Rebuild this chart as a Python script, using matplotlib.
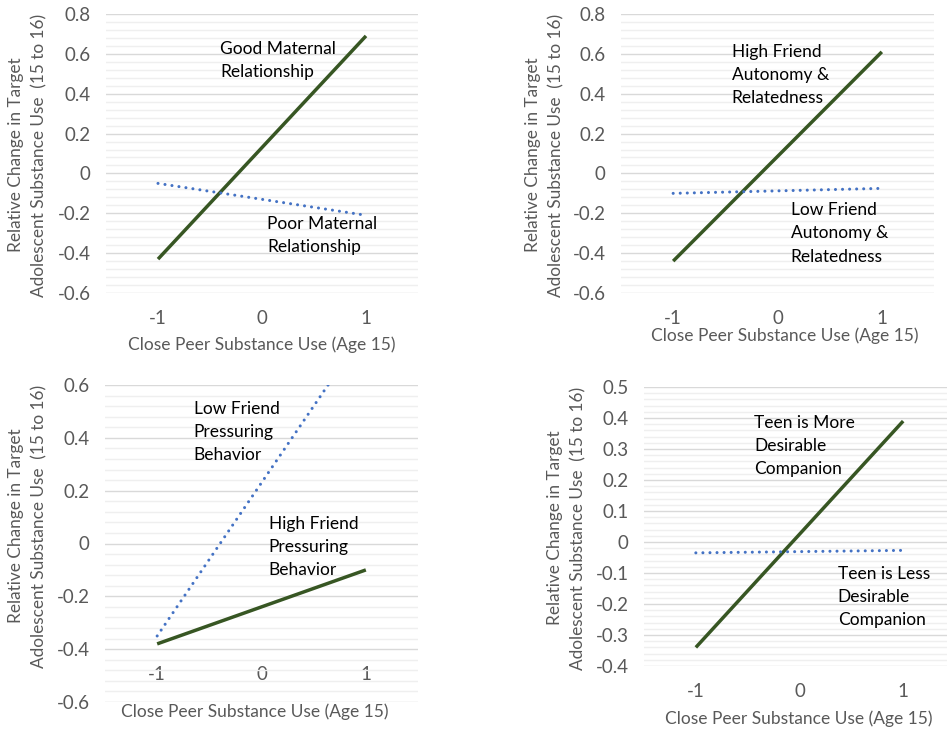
import matplotlib
matplotlib.use("Agg")
import matplotlib.pyplot as plt
import numpy as np
from matplotlib.ticker import MultipleLocator, FuncFormatter

plt.rcParams['font.family'] = ['Lato', 'DejaVu Sans']

W, H = 947, 735

# Datos (valores en x = -1 y x = 1)
x_vals = [-1, 1]
x_ticks = [-1, 0, 1]
x_tick_labels = ["-1", "0", "1"]

p1_good = [-0.43, 0.69]
p1_poor = [-0.05, -0.21]
p2_high = [-0.44, 0.61]
p2_low = [-0.10, -0.075]
p3_low = [-0.35, 0.81]
p3_high = [-0.38, -0.10]
p4_more = [-0.34, 0.39]
p4_less = [-0.035, -0.027]

ylabel = "Relative Change in Target\nAdolescent Substance Use  (15 to 16)"
xlabel = "Close Peer Substance Use (Age 15)"

GREEN = "#375623"
BLUE = "#4472C4"
GRAY = "#595959"

fig = plt.figure(figsize=(W / 100, H / 100), dpi=100)


def make_axes(left, right, top, bottom):
    return fig.add_axes([left / W, 1 - bottom / H, (right - left) / W, (bottom - top) / H])


def style(ax, ymin, ymax, step, cross):
    ax.set_xlim(-1.5, 1.5)
    ax.set_ylim(ymin, ymax)
    ax.yaxis.set_major_locator(MultipleLocator(step))
    ax.yaxis.set_minor_locator(MultipleLocator(step / 5))
    ax.yaxis.set_major_formatter(FuncFormatter(lambda v, p: f"{round(v, 2):g}".replace("−", "-")))
    ax.set_xticks(x_ticks)
    ax.set_xticklabels(x_tick_labels)
    ax.grid(which="major", axis="y", color="#D9D9D9", lw=1.0)
    ax.grid(which="minor", axis="y", color="#EFEFEF", lw=1.0)
    ax.set_axisbelow(True)
    for s in ax.spines.values():
        s.set_color("none")
    ax.spines["bottom"].set_position(("data", cross))
    ax.tick_params(which="both", length=0, labelsize=13.5, labelcolor=GRAY)
    ax.tick_params(axis="y", pad=11)
    ax.tick_params(axis="x", pad=12)


def draw(ax, solid, dotted):
    ax.plot(x_vals, solid, color=GREEN, lw=2.5, solid_capstyle="butt")
    ax.plot(x_vals, dotted, color=BLUE, lw=2.2, dashes=(0.01, 2.3), dash_capstyle="round")


def labels(ax, x, y, txt):
    ax.text(x, y, txt, fontsize=12.5, color="black", va="top", ha="left", linespacing=1.55)


def fig_labels(yx, yy, xx, xy):
    fig.text(yx / W, 1 - yy / H, ylabel, rotation=90, ha="center", va="center",
             fontsize=12.4, color=GRAY, multialignment="center", linespacing=1.55)
    fig.text(xx / W, 1 - xy / H, xlabel, ha="center", va="center", fontsize=12.5, color=GRAY)


# Panel 1
ax1 = make_axes(106, 418, 14, 293)
style(ax1, -0.6, 0.8, 0.2, -0.6)
draw(ax1, p1_good, p1_poor)
labels(ax1, -0.40, 0.665, "Good Maternal\nRelationship")
labels(ax1, 0.05, -0.215, "Poor Maternal\nRelationship")
fig_labels(28, 155, 262, 345)

# Panel 2
ax2 = make_axes(621, 934, 14, 293)
style(ax2, -0.6, 0.8, 0.2, -0.6)
draw(ax2, p2_high, p2_low)
labels(ax2, -0.44, 0.65, "High Friend\nAutonomy &\nRelatedness")
labels(ax2, 0.125, -0.145, "Low Friend\nAutonomy &\nRelatedness")
fig_labels(545, 155, 785, 336)

# Panel 3
ax3 = make_axes(105, 418, 385, 702)
style(ax3, -0.6, 0.6, 0.2, -0.4)
draw(ax3, p3_high, p3_low)
labels(ax3, -0.65, 0.54, "Low Friend\nPressuring\nBehavior")
labels(ax3, 0.07, 0.105, "High Friend\nPressuring\nBehavior")
fig_labels(28, 526, 255, 712)

# Panel 4
ax4 = make_axes(644, 955, 387, 666)
style(ax4, -0.4, 0.5, 0.1, -0.4)
draw(ax4, p4_more, p4_less)
labels(ax4, -0.44, 0.41, "Teen is More\nDesirable\nCompanion")
labels(ax4, 0.37, -0.076, "Teen is Less\nDesirable\nCompanion")
fig_labels(567, 528, 799, 719)

fig.savefig("out.png", dpi=100)
